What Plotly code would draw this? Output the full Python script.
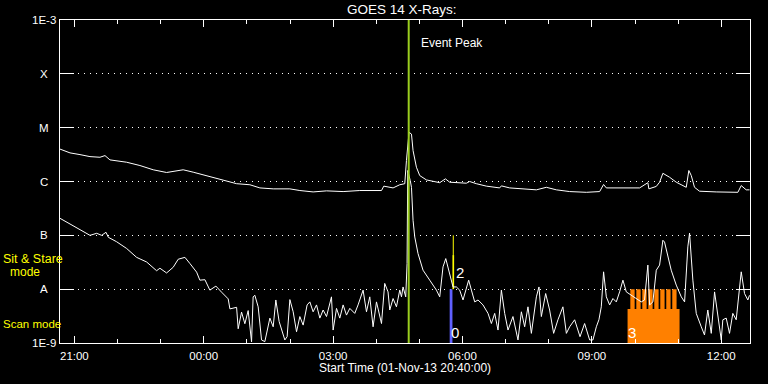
import math
import pandas as pd
import plotly.graph_objects as go

START = "2013-11-01 20:40:00"
END = "2013-11-02 12:40:00"
TITLE = "GOES 14 X-Rays:"
XLABEL = "Start Time (01-Nov-13 20:40:00)"

# Long channel (upper curve): minutes after START, flux (W/m^2)
long_min = [0, 13.9, 27.8, 41.7, 55.6, 62.6, 69.5, 92.7, 111.2, 129.7,
            148.3, 157.5, 171.4, 185.3, 199.2, 217.9, 231.8, 245.7, 264.2, 278.1,
            296.6, 319.8, 333.7, 352.2, 370.8, 393.9, 417.1, 435.6, 447.3, 450.5,
            463.4, 472.7, 479.7, 482.0, 485.6, 489.0, 491.2, 495.9, 500.5, 509.8,
            528.3, 536.2, 542.2, 565.4, 570.0, 579.3, 593.2, 611.7, 614.1, 625.6,
            644.1, 662.8, 676.7, 690.6, 709.1, 732.3, 750.8, 756.3, 760.1, 787.9,
            806.4, 817.9, 819.3, 829.6, 834.2, 838.8, 848.1, 857.4, 871.3, 874.9,
            878.3, 882.8, 889.8, 913.0, 936.1, 943.1, 947.8, 954.7, 959.3]
long_flux = [4.0e-6, 3.4e-6, 3.16e-6, 2.9e-6, 2.82e-6, 3.03e-6, 2.52e-6, 2.28e-6, 1.98e-6, 1.65e-6,
             1.47e-6, 1.55e-6, 1.65e-6, 1.49e-6, 1.33e-6, 1.17e-6, 1.04e-6, 9.1e-7, 8.7e-7, 7.6e-7,
             7.3e-7, 7.3e-7, 6.8e-7, 6.4e-7, 6.7e-7, 6.5e-7, 6.8e-7, 6.8e-7, 6.8e-7, 8.2e-7,
             7.6e-7, 8.7e-7, 9.1e-7, 2.45e-6, 8.2e-6, 7.6e-6, 3.75e-6, 1.84e-6, 1.29e-6, 1.07e-6,
             9.5e-7, 1.12e-6, 9.7e-7, 9.3e-7, 1.0e-6, 9.1e-7, 8.2e-7, 7.6e-7, 8.3e-7, 7.6e-7,
             7.3e-7, 7.0e-7, 7.8e-7, 7.0e-7, 6.5e-7, 6.3e-7, 6.5e-7, 8.8e-7, 7.6e-7, 7.6e-7,
             7.6e-7, 9.5e-7, 7.3e-7, 8.1e-7, 9.7e-7, 1.42e-6, 1.2e-6, 9.7e-7, 7.8e-7, 1.6e-6,
             1.29e-6, 7.8e-7, 6.6e-7, 6.4e-7, 6.2e-7, 6.3e-7, 8.4e-7, 7.0e-7, 7.0e-7]

# Short channel (lower curve)
short_min = [0, 13.9, 27.8, 41.7, 51.0, 58.0, 64.0, 67.2, 78.8, 92.7,
             106.6, 120.5, 134.4, 139.0, 148.3, 157.5, 164.5, 173.8, 180.7, 190.1,
             194.6, 201.6, 208.5, 216.9, 224.8, 234.0, 236.4, 245.7, 247.9, 252.6,
             257.2, 261.8, 266.5, 268.7, 271.1, 275.7, 280.4, 285.0, 292.0, 296.6,
             300.3, 304.9, 312.8, 316.0, 319.8, 324.4, 329.1, 333.7, 338.3, 343.8,
             347.6, 352.2, 356.9, 361.5, 366.1, 370.8, 377.7, 380.0, 384.7, 389.3,
             393.9, 398.6, 403.2, 410.1, 414.7, 421.7, 426.4, 431.0, 435.6, 440.3,
             447.3, 451.8, 456.4, 458.8, 463.4, 468.1, 472.7, 475.1, 477.3, 481.0,
             482.9, 483.8, 487.3, 489.0, 491.2, 493.6, 498.1, 505.1, 514.4, 523.7,
             528.3, 532.9, 536.7, 542.2, 546.8, 551.5, 556.1, 560.7, 565.4, 568.6,
             572.4, 577.0, 581.6, 588.5, 595.5, 600.2, 604.8, 609.4, 614.1, 618.7,
             623.3, 630.2, 637.2, 641.9, 646.5, 651.1, 655.8, 662.8, 666.4, 669.7,
             675.7, 681.2, 686.8, 692.8, 699.7, 704.5, 709.1, 716.0, 723.5, 729.9,
             736.9, 741.5, 746.2, 749.8, 753.1, 756.3, 760.1, 764.7, 769.3, 774.0,
             778.6, 783.2, 787.9, 794.8, 801.8, 808.7, 813.3, 817.9, 820.3, 824.9,
             829.6, 834.2, 838.8, 841.1, 850.4, 857.4, 864.4, 869.0, 873.5, 875.9,
             880.5, 885.2, 892.2, 896.7, 901.3, 906.1, 910.7, 915.2, 920.0, 922.2,
             926.9, 931.5, 936.1, 940.8, 945.4, 947.8, 952.4, 957.0, 959.3]
short_flux = [2.07e-7, 1.62e-7, 1.31e-7, 1.0e-7, 1.09e-7, 1.0e-7, 1.14e-7, 9.2e-8, 7.6e-8, 5.7e-8,
              3.9e-8, 3.2e-8, 2.2e-8, 2.45e-8, 2.0e-8, 2.55e-8, 3.6e-8, 3.9e-8, 3.0e-8, 2.07e-8,
              1.47e-8, 1.5e-8, 9.6e-9, 1.14e-8, 8.8e-9, 6.6e-9, 4.3e-9, 4.6e-9, 1.84e-9, 3.75e-9,
              2.28e-9, 4.0e-9, 1.05e-9, 7.2e-9, 7.7e-9, 4.7e-9, 1.14e-9, 1.06e-9, 2.9e-9, 2.0e-9,
              6.3e-9, 2.5e-9, 1.14e-9, 1.31e-9, 6.4e-9, 3.8e-9, 1.62e-9, 3.1e-9, 2.15e-9, 5.1e-9,
              5.8e-9, 3.8e-9, 5.1e-9, 2.9e-9, 4.1e-9, 3.1e-9, 7.2e-9, 1.74e-9, 4.4e-9, 2.9e-9,
              5.1e-9, 3.3e-9, 4.4e-9, 3.55e-9, 5.1e-9, 9.6e-9, 3.8e-9, 7.2e-9, 2.0e-9, 5.8e-9,
              2.3e-9, 1.28e-8, 8.9e-9, 4.1e-9, 6.7e-9, 4.7e-9, 9.6e-9, 7.2e-9, 1.1e-8, 7.2e-9,
              3.0e-8, 1.6e-6, 1.04e-6, 7.8e-7, 1.9e-7, 9.3e-8, 4.6e-8, 2.25e-8, 1.47e-8, 9.6e-9,
              7.2e-9, 2.6e-8, 3.7e-8, 1.95e-8, 1.1e-8, 1.1e-8, 9.6e-9, 6.3e-9, 1.1e-8, 1.47e-8,
              9.6e-9, 5.8e-9, 6.3e-9, 5.1e-9, 3.55e-9, 2.3e-9, 3.55e-9, 1.74e-9, 9.6e-9, 3.55e-9,
              1.74e-9, 3.1e-9, 1.14e-9, 3.8e-9, 2.0e-9, 4.7e-9, 1.51e-9, 7.2e-9, 1.1e-8, 3.1e-9,
              8.3e-9, 4.1e-9, 1.51e-9, 2.7e-9, 4.7e-9, 1.51e-9, 2.0e-9, 2.7e-9, 1.31e-9, 2.3e-9,
              1.14e-9, 1.14e-9, 2.0e-9, 2.7e-9, 4.7e-9, 2.1e-8, 7.2e-9, 5.1e-9, 6.7e-9, 5.8e-9,
              8.9e-9, 1.47e-8, 8.9e-9, 7.7e-9, 6.7e-9, 5.8e-9, 6.3e-9, 2.8e-8, 5.1e-9, 5.8e-9,
              2.25e-8, 2.8e-8, 8.1e-8, 7.5e-8, 2.25e-8, 1.19e-8, 7.2e-9, 5.8e-9, 6.1e-8, 1.1e-7,
              1.47e-8, 3.55e-9, 2.0e-9, 1.41e-9, 4.1e-9, 1.51e-9, 8.9e-9, 3.1e-9, 1.14e-9, 2.7e-9,
              2.9e-9, 1.51e-9, 3.55e-9, 2.7e-9, 1.03e-8, 2.1e-8, 8.3e-9, 6.3e-9, 7.7e-9]

assert len(long_min) == len(long_flux)
assert len(short_min) == len(short_flux)

# GOES class levels
level_flux = [1e-3, 1e-4, 1e-5, 1e-6, 1e-7, 1e-8, 1e-9]
level_text = ["1E-3", "X", "M", "C", "B", "A", "1E-9"]

EVENT_PEAK = "2013-11-02 04:45:10"
EVENT_TEXT = "Event Peak"

# Observation timeline marks
blue_t = ["2013-11-02 05:42:10", "2013-11-02 05:46:00"]
blue_f = [1e-9, 1e-8]
yellow_t = ["2013-11-02 05:46:00", "2013-11-02 05:48:20"]
yellow_f = [1e-8, 4.3e-8]
yellow_tick_t = "2013-11-02 05:47:10"
yellow_tick_f = [4.3e-8, 1e-7]
orange_block_t = ["2013-11-02 09:49:40", "2013-11-02 11:02:00"]
orange_block_f = [1e-9, 4.3e-9]
orange_stripe_start = ["09:53:30", "10:01:50", "10:10:10", "10:18:30",
                       "10:26:50", "10:35:10", "10:43:30", "10:51:50"]
orange_stripe_end = ["09:59:30", "10:07:50", "10:16:10", "10:24:30",
                     "10:32:50", "10:41:10", "10:49:30", "10:57:50"]
orange_stripe_f = [4.3e-9, 1e-8]
mark_labels = [("0", "2013-11-02 05:49:10", 1.56e-9),
               ("2", "2013-11-02 05:56:00", 2.07e-8),
               ("3", "2013-11-02 09:56:30", 1.56e-9)]

start = pd.Timestamp(START)
long_t = start + pd.to_timedelta(long_min, unit="min")
short_t = start + pd.to_timedelta(short_min, unit="min")

FONT = "Liberation Sans"
WHITE = "white"
YELLOW = "rgb(255,255,0)"
BLUE = "rgb(96,96,255)"
ORANGE = "rgb(255,128,0)"
GREEN = "rgb(154,205,30)"


def rect(t0, t1, f0, f1):
    return [t0, t1, t1, t0, t0], [f0, f0, f1, f1, f0]


fig = go.Figure()

# observation marks
bx, by = rect(*blue_t, *blue_f)
fig.add_trace(go.Scatter(x=bx, y=by, fill="toself", fillcolor=BLUE, mode="lines",
                         line=dict(width=0, color=BLUE), hoverinfo="skip", showlegend=False))
yx, yy = rect(*yellow_t, *yellow_f)
fig.add_trace(go.Scatter(x=yx, y=yy, fill="toself", fillcolor=YELLOW, mode="lines",
                         line=dict(width=0, color=YELLOW), hoverinfo="skip", showlegend=False))
fig.add_trace(go.Scatter(x=[yellow_tick_t, yellow_tick_t], y=yellow_tick_f, mode="lines",
                         line=dict(width=1, color=YELLOW), hoverinfo="skip", showlegend=False))
ox, oy = rect(*orange_block_t, *orange_block_f)
sx, sy = [], []
for a, b in zip(orange_stripe_start, orange_stripe_end):
    rx, ry = rect("2013-11-02 " + a, "2013-11-02 " + b, *orange_stripe_f)
    sx += rx + [None]
    sy += ry + [None]
fig.add_trace(go.Scatter(x=ox, y=oy, fill="toself", fillcolor=ORANGE, mode="lines",
                         line=dict(width=0, color=ORANGE), hoverinfo="skip", showlegend=False))
fig.add_trace(go.Scatter(x=sx, y=sy, fill="toself", fillcolor=ORANGE, mode="lines",
                         line=dict(width=0, color=ORANGE), hoverinfo="skip", showlegend=False))

# curves
fig.add_trace(go.Scatter(x=long_t, y=long_flux, mode="lines",
                         line=dict(color=WHITE, width=1), showlegend=False))
fig.add_trace(go.Scatter(x=short_t, y=short_flux, mode="lines",
                         line=dict(color=WHITE, width=1), showlegend=False))

# event peak line
fig.add_trace(go.Scatter(x=[EVENT_PEAK, EVENT_PEAK], y=[level_flux[-1], level_flux[0]], mode="lines",
                         line=dict(color=GREEN, width=2), hoverinfo="skip", showlegend=False))

annotations = []
for txt, v in zip(level_text, level_flux):
    annotations.append(dict(text=txt, xref="paper", x=-0.0232, xanchor="center",
                            yref="y", y=math.log10(v), yanchor="middle", showarrow=False,
                            font=dict(family=FONT, size=11.5, color=WHITE)))
for txt, t, v in mark_labels:
    annotations.append(dict(text=txt, xref="x", x=t, xanchor="center",
                            yref="y", y=math.log10(v), yanchor="middle", showarrow=False,
                            font=dict(family=FONT, size=15, color=WHITE)))
annotations.append(dict(text=EVENT_TEXT, xref="paper", x=(419 - 60) / 690.5, xanchor="left",
                        yref="paper", y=(343 - 43) / 323, yanchor="middle", showarrow=False,
                        font=dict(family=FONT, size=12, color=WHITE)))
annotations.append(dict(text="Sit\u00a0&\u00a0Stare", xref="paper", x=(1 - 60) / 690.5, xanchor="left",
                        yref="paper", y=(343 - 259) / 323, yanchor="middle", showarrow=False,
                        font=dict(family=FONT, size=12.5, color=YELLOW)))
annotations.append(dict(text="mode", xref="paper", x=(24.5 - 60) / 690.5, xanchor="center",
                        yref="paper", y=(343 - 271.5) / 323, yanchor="middle", showarrow=False,
                        font=dict(family=FONT, size=12, color=YELLOW)))
annotations.append(dict(text="Scan mode", xref="paper", x=(1 - 60) / 690.5, xanchor="left",
                        yref="paper", y=(343 - 324) / 323, yanchor="middle", showarrow=False,
                        font=dict(family=FONT, size=11.5, color=YELLOW)))
annotations.append(dict(text=XLABEL, xref="paper", x=0.5, xanchor="center",
                        yref="paper", y=(343 - 368) / 323, yanchor="middle", showarrow=False,
                        font=dict(family=FONT, size=12, color=WHITE)))

fig.update_layout(
    width=768, height=384,
    margin=dict(l=60, r=17.5, t=20, b=41),
    paper_bgcolor="black", plot_bgcolor="black",
    title=dict(text=TITLE, x=(402 - 60) / 690.5, xref="paper", xanchor="center",
               y=1 - 9.5 / 384, yref="container", yanchor="middle",
               font=dict(family=FONT, size=13.5, color=WHITE)),
    annotations=annotations,
    showlegend=False,
    font=dict(family=FONT, color=WHITE),
)
fig.update_xaxes(
    type="date", range=[START, END],
    tick0="2013-11-01 21:00:00", dtick=3 * 3600000, tickformat="%H:%M",
    ticks="inside", ticklen=7, tickcolor=WHITE, tickwidth=1,
    minor=dict(tick0="2013-11-01 21:00:00", dtick=3600000, ticks="inside",
               ticklen=4, tickcolor=WHITE, tickwidth=1, showgrid=False),
    showline=True, linecolor=WHITE, linewidth=1, mirror="ticks",
    showgrid=False, zeroline=False,
    tickfont=dict(family=FONT, size=11.5, color=WHITE),
    ticklabelstandoff=2,
)
fig.update_yaxes(
    type="log", range=[-9, -3],
    tickvals=level_flux, showticklabels=False,
    ticks="inside", ticklen=14, tickcolor=WHITE, tickwidth=1,
    showline=True, linecolor=WHITE, linewidth=1, mirror="ticks",
    showgrid=True, gridcolor=WHITE, gridwidth=1, griddash="1px,5px",
    zeroline=False,
)

fig.write_html(
    "out.html",
    config={"displayModeBar": False},
    post_script="document.body.style.margin='0px';document.body.style.background='black';",
)
